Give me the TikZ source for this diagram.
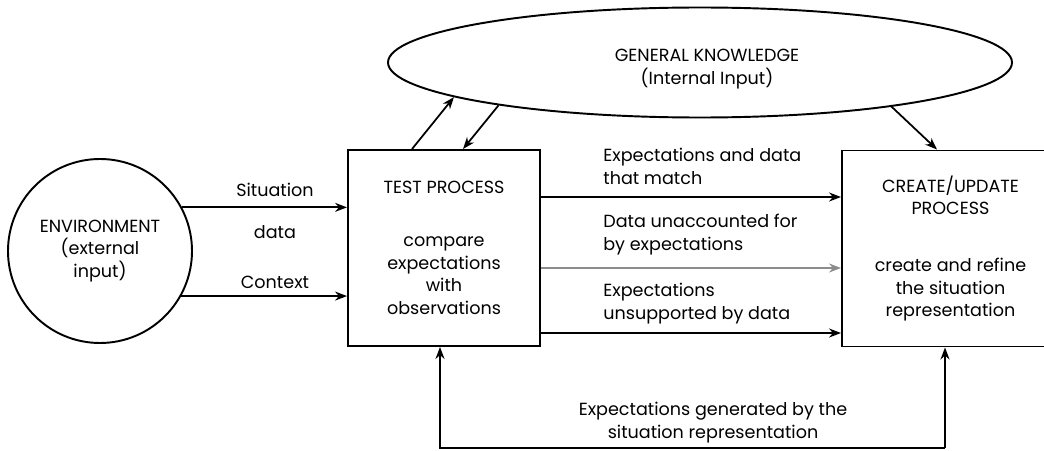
\documentclass[tikz,border=0pt]{standalone}
\usepackage{fontspec}
\setmainfont{Poppins}
\usetikzlibrary{arrows.meta,positioning,shapes.geometric}
\tikzset{
  ar/.style={-{Stealth[length=2.4mm,width=1.8mm]},line width=1pt},
  box/.style={draw,line width=1.1pt,align=center,minimum height=3.92cm,inner sep=0pt},
  txt/.style={font=\fontsize{10}{13}\selectfont,inner sep=0pt}
}

\begin{document}
\begin{tikzpicture}
\useasboundingbox (0,0) rectangle (20.88,9);
\node[circle,draw,line width=1.1pt,minimum size=3.68cm,inner sep=0pt,txt,align=center] (env) at (2.0,3.98)
  {ENVIRONMENT\\(external\\input)};
\node[box,txt,minimum width=3.84cm] (tp) at (8.88,4.04)
  {TEST PROCESS\\[17pt]compare\\expectations\\with\\observations};
\node[box,txt,minimum width=4.34cm] (cu) at (19.01,4.03)
  {CREATE/UPDATE\\PROCESS\\[19pt]create and refine\\the situation\\representation};
\node[ellipse,draw,line width=1.1pt,minimum width=12.48cm,minimum height=2.2cm,inner sep=0pt] (gk) at (14,7.75) {};
\node[txt,align=center] (gkt) at (14.14,7.61) {GENERAL KNOWLEDGE\\(Internal Input)};

\draw[ar] (env.28.6) -- (env.28.6 -| tp.west);
\draw[ar] (env.-29) -- (env.-29 -| tp.west);
\node[txt] (sit) at (5.5,5.2) {Situation};
\node[txt] (dat) at (5.5,4.36) {data};
\node[txt] (ctx) at (5.5,3.36) {Context};

\draw[ar] (tp.north -| 8.24,0) -- (gk.188.7);
\draw[ar] (gk.192.6) -- (tp.north -| 9.26,0);
\draw[ar] (gk.347.2) -- (cu.north -| 18.74,0);

\draw[ar] (tp.east |- 0,5.06) -- (cu.west |- 0,5.06);
\draw[ar,black!45,line width=0.7pt] (tp.east |- 0,3.64) -- (cu.west |- 0,3.64);
\draw[ar] (tp.east |- 0,2.34) -- (cu.west |- 0,2.34);
\node[txt,align=left,anchor=west] (m1) at (12.06,5.68) {Expectations and data\\that match};
\node[txt,align=left,anchor=west] (m2) at (12.06,4.31) {Data unaccounted for\\by expectations};
\node[txt,align=left,anchor=west] (m3) at (12.06,2.92) {Expectations\\unsupported by data};

\coordinate (loopL) at (8.8,0.04);
\coordinate (loopR) at (18.9,0.04);
\draw[ar] (loopR) -- (loopL) -- (loopL |- tp.south);
\draw[ar] (loopR) -- (loopR |- cu.south);
\node[txt,align=center] (fb) at (14.26,0.55) {Expectations generated by the\\situation representation};
\end{tikzpicture}
\end{document}
